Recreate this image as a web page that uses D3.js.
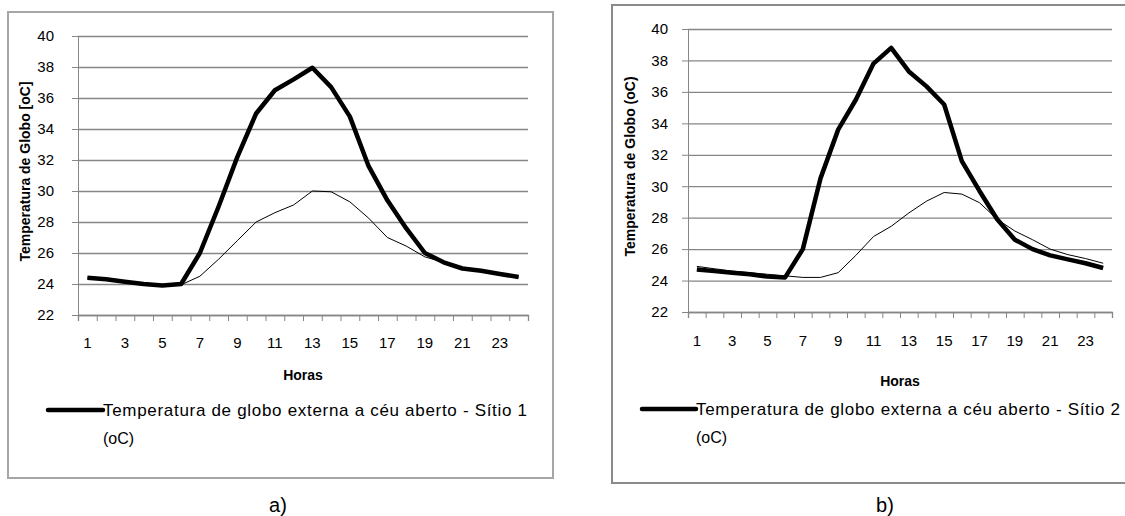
<!DOCTYPE html>
<html lang="pt">
  <head>
    <meta charset="utf-8">
    <title>Temperatura de globo</title>
    <script src="https://d3js.org/d3.v7.min.js" charset="utf-8"></script>
    <style>
      body { margin: 0; background: #fff; }
      text { font-family: "Liberation Sans", Arial, sans-serif; fill: #000; }
    </style>
  </head>
  <body>
    <script>
      // horas do dia (categorias)
      var hours = [1,2,3,4,5,6,7,8,9,10,11,12,13,14,15,16,17,18,19,20,21,22,23,24];
      var hourLabels = [1,3,5,7,9,11,13,15,17,19,21,23];
      var tempTicks = [22,24,26,28,30,32,34,36,38,40];

      // sitio 1 (grafico a)
      var globo1 = [24.4,24.3,24.15,24.0,23.9,24.0,26.0,29.0,32.2,35.0,36.5,37.2,37.95,36.7,34.8,31.6,29.4,27.6,26.0,25.4,25.0,24.85,24.65,24.45];
      var outra1 = [24.4,24.3,24.15,24.0,23.9,23.95,24.5,25.6,26.8,28.0,28.6,29.1,30.0,29.95,29.3,28.25,27.0,26.45,25.75,25.4,25.0,24.85,24.65,24.45];

      // sitio 2 (grafico b)
      var globo2 = [24.7,24.6,24.5,24.4,24.25,24.2,26.0,30.5,33.6,35.5,37.8,38.8,37.3,36.35,35.2,31.6,29.7,27.9,26.6,26.0,25.6,25.35,25.1,24.8];
      var outra2 = [24.9,24.75,24.6,24.5,24.4,24.3,24.2,24.2,24.5,25.6,26.8,27.45,28.3,29.05,29.6,29.5,28.95,27.9,27.15,26.6,26.0,25.65,25.4,25.1];

      var width = 1125,
          height = 516;

      var svg = d3.select("body").append("svg")
        .attr("width", width)
        .attr("height", height);

      var charts = [
        {
          box: [8, 12, 545, 466], boxColor: "#a6a6a6",
          plot: [78, 36, 450, 279],
          yTitle: "Temperatura de Globo  [oC]", yTitleX: 25, yPad: 18,
          tickY: 348, horasY: 380, legendY: 410,
          legendX: [48, 103],
          legendText: "Temperatura de globo externa a céu aberto  -  Sítio 1",
          caption: "a)", captionX: 278,
          globo: globo1, outra: outra1
        },
        {
          box: [612, 5, 540, 478], boxColor: "#8a8a8a",
          plot: [688, 29, 424, 283],
          yTitle: "Temperatura de Globo  (oC)", yTitleX: 630, yPad: 14,
          tickY: 346, horasY: 386, legendY: 409,
          legendX: [642, 696],
          legendText: "Temperatura de globo externa a céu aberto  -  Sítio 2",
          caption: "b)", captionX: 885,
          globo: globo2, outra: outra2
        }
      ];

      charts.forEach(function(c) {
        var g = svg.append("g");
        var px = c.plot[0], py = c.plot[1], pw = c.plot[2], ph = c.plot[3];

        g.append("rect")
          .attr("x", c.box[0]).attr("y", c.box[1])
          .attr("width", c.box[2]).attr("height", c.box[3])
          .attr("fill", "none")
          .attr("stroke", c.boxColor)
          .attr("stroke-width", 2);

        var x = d3.scaleLinear().domain([0.5, 24.5]).range([px, px + pw]);
        var y = d3.scaleLinear().domain([22, 40]).range([py + ph, py]);

        // linhas de grade
        g.append("g")
          .attr("transform", "translate(" + px + ",0)")
          .call(d3.axisLeft(y).tickValues(tempTicks).tickSize(-pw).tickFormat(""))
          .call(function(s) {
            s.select(".domain").remove();
            s.selectAll("line").attr("stroke", "#868686").attr("stroke-width", 1.3);
          });

        // eixo y
        var ya = g.append("g")
          .attr("transform", "translate(" + px + ",0)")
          .call(d3.axisLeft(y).tickValues(tempTicks).tickSize(6).tickPadding(c.yPad));
        ya.select(".domain").attr("stroke", "#868686");
        ya.selectAll("line").attr("stroke", "#868686");
        ya.selectAll("text").style("font-size", "15px");

        // eixo x: marcas entre categorias
        var xa = g.append("g")
          .attr("transform", "translate(0," + (py + ph) + ")")
          .call(d3.axisBottom(x).tickValues(hours.map(function(h) { return h - 0.5; }).concat([24.5])).tickSize(6).tickFormat(""));
        xa.select(".domain").attr("stroke", "#868686").attr("stroke-width", 1.3);
        xa.selectAll("line").attr("stroke", "#868686");

        g.append("g")
          .selectAll("text")
          .data(hourLabels)
          .enter().append("text")
          .attr("x", function(d) { return x(d); })
          .attr("y", c.tickY)
          .attr("text-anchor", "middle")
          .style("font-size", "15px")
          .text(function(d) { return d; });

        g.append("text")
          .attr("x", px + pw / 2)
          .attr("y", c.horasY)
          .attr("text-anchor", "middle")
          .style("font-size", "14px")
          .style("font-weight", "bold")
          .text("Horas");

        g.append("text")
          .attr("transform", "translate(" + c.yTitleX + "," + (py + ph / 2 - 4) + ") rotate(-90)")
          .attr("text-anchor", "middle")
          .attr("dy", "0.35em")
          .style("font-size", "14px")
          .style("font-weight", "bold")
          .text(c.yTitle);

        var line = d3.line()
          .x(function(d, i) { return x(hours[i]); })
          .y(function(d) { return y(d); });

        g.append("path")
          .datum(c.outra)
          .attr("d", line)
          .attr("fill", "none")
          .attr("stroke", "#000")
          .attr("stroke-width", 1);

        g.append("path")
          .datum(c.globo)
          .attr("d", line)
          .attr("fill", "none")
          .attr("stroke", "#000")
          .attr("stroke-width", 4.5)
          .attr("stroke-linejoin", "round");

        // legenda
        g.append("line")
          .attr("x1", c.legendX[0]).attr("x2", c.legendX[1])
          .attr("y1", c.legendY).attr("y2", c.legendY)
          .attr("stroke", "#000")
          .attr("stroke-width", 4.5)
          .attr("stroke-linecap", "round");

        g.append("text")
          .attr("x", c.legendX[1])
          .attr("y", c.legendY + 6)
          .attr("textLength", 424)
          .attr("lengthAdjust", "spacing")
          .style("font-size", "17px")
          .text(c.legendText);

        g.append("text")
          .attr("x", c.legendX[1])
          .attr("y", c.legendY + 34)
          .style("font-size", "16px")
          .text("(oC)");

        svg.append("text")
          .attr("x", c.captionX)
          .attr("y", 512)
          .attr("text-anchor", "middle")
          .style("font-size", "20px")
          .text(c.caption);
      });
    </script>
  </body>
</html>
